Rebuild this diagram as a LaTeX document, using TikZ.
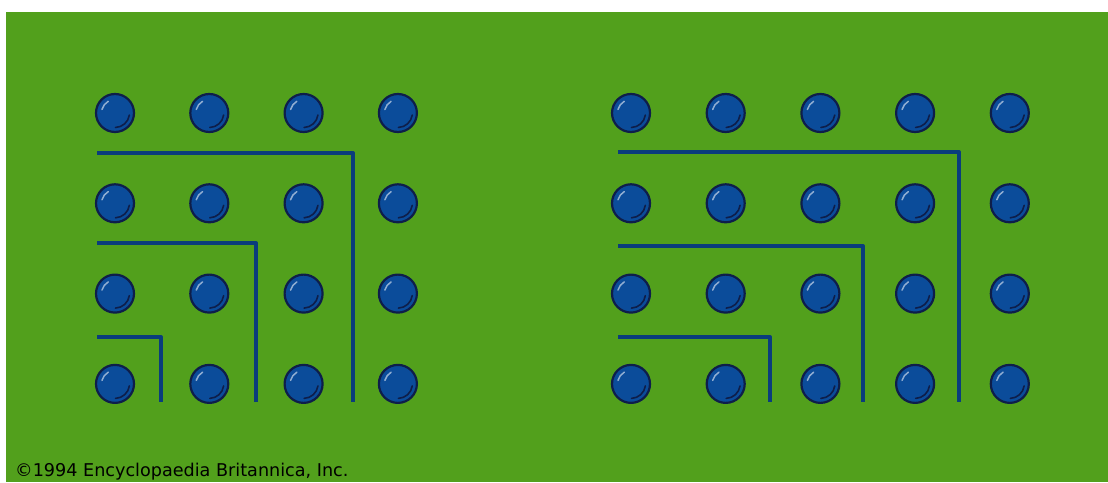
\documentclass[tikz,border=0pt]{standalone}
\usepackage{fontspec}
\setmainfont{DejaVu Sans}
\definecolor{field}{HTML}{52A01C}
\definecolor{ballfill}{HTML}{0B4C9A}
\definecolor{balledge}{HTML}{0E1E4A}
\definecolor{bar}{HTML}{0A3D7C}
\begin{document}
\begin{tikzpicture}[x=1pt,y=1pt,line join=round]
	\tikzset{ball/.style={circle,inner sep=0pt,minimum size=38pt,fill=ballfill,draw=balledge,line width=2.2pt,
		path picture={
			\draw[white!55!ballfill,line width=1.5pt,line cap=round] (path picture bounding box.center) ++(165:13.5) arc (165:120:13.5);
			\draw[balledge,line width=1.6pt,line cap=round] (path picture bounding box.center) ++(-8:14.5) arc (-8:-88:14.5);}},
		bar/.style={draw=bar,line width=4pt}}
	\def \dxl{94.3} \def \dxr{94.7} \def \dy{90.3}
	\useasboundingbox (0,0) rectangle (1108,482);
	\fill[field] (6,0) rectangle (1108,470);
	% left array: 4 x 4
	\foreach \i in {0,...,3} \foreach \j in {0,...,3}
		\node[ball] (l\i\j) at ({115+\dxl*\i},{369-\dy*\j}) {};
	% right array: 5 x 4
	\foreach \i in {0,...,4} \foreach \j in {0,...,3}
		\node[ball] (r\i\j) at ({631+\dxr*\i},{369-\dy*\j}) {};
	% gnomons
	\foreach \x/\y in {161/145,256/239,353/329} \draw[bar] (97,\y) -| (\x,80);
	\foreach \x/\y in {770/145,863/236,959/330} \draw[bar] (618,\y) -| (\x,80);
	\node[anchor=base west,inner sep=0pt,font=\fontsize{17.6}{18}\selectfont] (credit) at (15,6) {©1994 Encyclopaedia Britannica, Inc.};
\end{tikzpicture}
\end{document}
